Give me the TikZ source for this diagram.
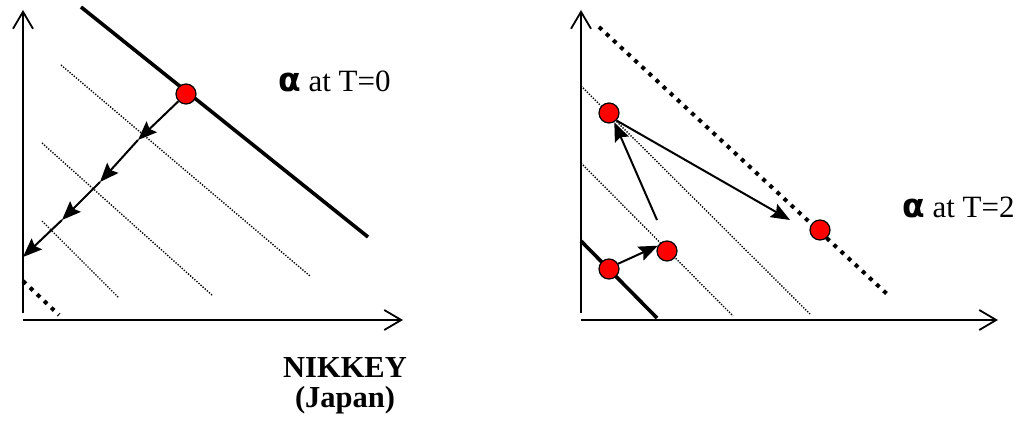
\documentclass[tikz,border=0pt]{standalone}
\usepackage{fontspec}
\setmainfont{Liberation Serif}
\newfontfamily\grk{DejaVu Sans}
\usetikzlibrary{arrows.meta}
\tikzset{
  ax/.style={-{Straight Barb[length=17pt,width=20pt]},line width=1.8pt},
  ar/.style={-{Stealth[length=19pt,width=15pt,inset=3pt]},line width=2pt},
  reddot/.style={circle,draw,fill=red,line width=1.2pt,minimum size=20pt,inner sep=0pt},
  fine/.style={line width=1.4pt,dash pattern=on 1.3pt off 1.5pt},
  fat/.style={line width=3.6pt},
  fatdots/.style={line width=4pt,dash pattern=on 4pt off 5.7pt},
  lbl/.style={font=\fontsize{31}{34}\selectfont,inner sep=0pt}
}
\newcommand{\axpair}[2]{%
  \draw[ax] (#1,313)--(#1,10);
  \draw[ax] (#1,320)--(#2,320);}

\begin{document}
\begin{tikzpicture}[x=1pt,y=-1pt]
\useasboundingbox (0,0) rectangle (1026,425);
% T=0
\axpair{23}{403}
\draw[fat] (81,7)--(368,237);
\draw[fine] (61,65)--(310,276);
\draw[fine] (42,143)--(213,296);
\draw[fine] (42,221)--(119,298);
\draw[fatdots] (23,281)--(59,315);
\node[reddot] (s0) at (186,94) {};
\coordinate (c1) at (138,140);
\coordinate (c2) at (100,182);
\coordinate (c3) at (62,220);
\coordinate (c4) at (23,257);
\draw[ar] (s0)--(c1);
\draw[ar] (c1)--(c2);
\draw[ar] (c2)--(c3);
\draw[ar] (c3)--(c4);
\node[lbl,anchor=base west] (t0) at (278,92) {{\grk\bfseries\fontsize{33}{34}\selectfont α} at T=0};
\node[lbl,font=\bfseries\fontsize{30.5}{34}\selectfont,anchor=base] (nk) at (345,377) {NIKKEY};
\node[lbl,font=\bfseries\fontsize{30.5}{34}\selectfont,anchor=base] (jp) at (345,407) {(Japan)};
% T=2
\axpair{581}{998}
\draw[fatdots] (599,27)--(887,294);
\draw[fine] (581,86)--(810,314);
\draw[fine] (581,163)--(733,316);
\draw[fat] (581,241)--(657,318);
\node[reddot] (a) at (609,269) {};
\node[reddot] (b) at (667,251) {};
\node[reddot] (c) at (609,113) {};
\node[reddot] (d) at (820,230) {};
\coordinate (q) at (657,220);
\coordinate (r) at (790,220);
\draw[ar] (a.30)--(b.150);
\draw[ar] (q)--(c.-60);
\draw[ar] (c.-45)--(r);
\node[lbl,anchor=base west] (t2) at (902,218) {{\grk\bfseries\fontsize{33}{34}\selectfont α} at T=2};
\end{tikzpicture}
\end{document}
